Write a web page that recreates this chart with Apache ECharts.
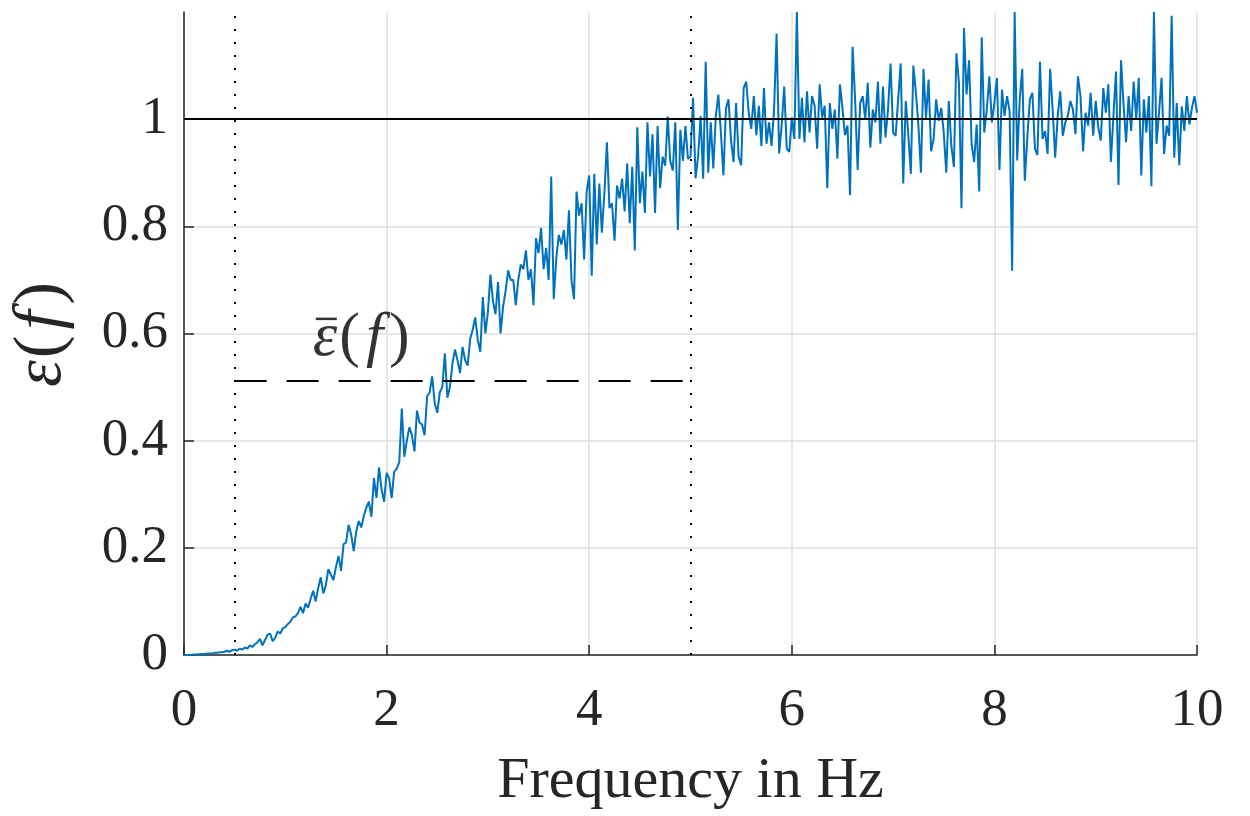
<!DOCTYPE html>
<html>
<head>
<meta charset="utf-8">
<script src="https://cdn.jsdelivr.net/npm/echarts@6/dist/echarts.min.js"></script>
<style>
  html, body { margin: 0; padding: 0; background: #fff; }
  #chart { width: 1250px; height: 816px; }
</style>
</head>
<body>
<div id="chart"></div>
<script>
// ---------- data ----------
const freqStart = 0;
const freqStep = 0.025;          // Hz between samples
const eps_0_1 = [0,0,0,0.0005,0.001,0.001,0.0015,0.002,0.002,0.0025,0.003,0.003,0.004,0.004,0.005,0.005,0.006,0.008,0.006,0.009,
  0.010,0.008,0.012,0.010,0.014,0.012,0.018,0.015,0.020,0.024,0.030,0.018,0.028,0.038,0.040,0.026,0.032,0.044,0.040,0.050];
const eps_1_2 = [0.052,0.058,0.062,0.070,0.072,0.078,0.090,0.078,0.096,0.088,0.105,0.120,0.100,0.125,0.145,0.115,0.130,0.160,0.150,0.140,
  0.164,0.185,0.157,0.207,0.210,0.243,0.225,0.194,0.230,0.250,0.238,0.260,0.275,0.286,0.258,0.330,0.293,0.350,0.310,0.286];
const eps_2_3 = [0.340,0.330,0.293,0.342,0.348,0.360,0.460,0.370,0.400,0.425,0.410,0.380,0.456,0.434,0.430,0.410,0.483,0.490,0.520,0.470,
  0.452,0.490,0.500,0.563,0.480,0.500,0.544,0.570,0.550,0.526,0.575,0.550,0.540,0.590,0.607,0.630,0.588,0.566,0.668,0.600];
const eps_3_4 = [0.640,0.710,0.660,0.636,0.696,0.600,0.650,0.680,0.718,0.700,0.700,0.653,0.700,0.729,0.720,0.755,0.700,0.720,0.653,0.778,
  0.750,0.797,0.720,0.760,0.700,0.893,0.664,0.740,0.784,0.766,0.793,0.738,0.830,0.700,0.664,0.865,0.820,0.843,0.738,0.865];
const eps_4_5 = [0.895,0.708,0.898,0.766,0.880,0.788,0.862,0.957,0.834,0.843,0.773,0.876,0.852,0.889,0.828,0.917,0.806,0.911,0.755,0.985,
  0.843,0.902,0.825,0.994,0.893,0.972,0.825,0.987,0.871,0.930,0.913,1.005,0.922,0.904,0.994,0.793,0.980,0.922,0.987,0.926];
const eps_5_6 = [0.930,1.040,0.890,0.930,1.006,0.889,1.107,0.900,0.994,0.908,1.006,1.046,0.975,0.895,1.020,1.037,0.960,0.920,1.030,0.930,
  0.914,1.058,1.070,1.012,0.982,1.043,0.970,1.025,0.950,1.058,0.954,0.994,0.950,1.018,1.160,0.936,0.988,1.061,0.945,0.939];
const eps_6_7 = [1.003,0.963,1.200,0.963,1.040,0.957,1.052,0.975,1.043,1.025,0.945,1.065,1.003,1.025,0.871,1.030,0.982,1.018,0.926,1.065,
  1.020,0.970,0.988,0.858,1.135,1.037,0.905,1.030,1.043,1.000,1.068,0.947,1.018,0.994,1.070,0.954,1.061,0.966,1.018,1.104];
const eps_7_8 = [0.975,0.969,1.037,1.104,0.880,1.034,0.972,0.898,1.100,1.050,0.988,0.900,1.094,1.002,1.074,0.940,0.963,1.037,0.997,1.021,
  0.975,0.900,1.034,0.950,0.911,1.123,1.068,0.834,1.170,1.046,1.110,0.954,0.920,0.990,0.865,1.153,0.975,1.018,1.080,0.994];
const eps_8_9 = [1.030,1.077,0.905,1.055,1.006,1.043,1.015,0.717,1.200,0.923,1.037,1.094,0.885,0.966,1.037,1.049,0.945,0.933,1.107,0.963,
  0.978,0.935,1.094,1.018,0.928,1.006,1.052,0.969,0.994,1.006,1.034,1.018,0.972,1.080,1.043,0.940,1.012,0.988,1.049,0.969];
const eps_9_10 = [1.034,0.985,0.960,1.058,1.012,1.065,0.920,1.006,1.089,0.877,1.110,1.027,0.957,1.043,0.978,1.070,1.000,1.077,0.895,1.037,
  0.975,1.043,0.875,1.200,0.954,1.012,1.077,0.935,0.988,0.969,1.193,0.928,1.030,0.914,1.024,0.978,1.043,0.990,1.021,1.043,1.012];

const bandLimits = [0.5, 5.0];   // dotted vertical lines (Hz)
const meanEps = 0.511;           // dashed mean level inside the band
const refLevel = 1;              // solid reference line
const annotAnchor = [1.76, 0.59]; // where the ε̄(f) text sits (data coords)
const xTicks = { min: 0, max: 10, step: 2 };
const yTicks = { min: 0, max: 1.2, step: 0.2 };

// ---------- build ----------
const epsilon = [].concat(eps_0_1, eps_1_2, eps_2_3, eps_3_4, eps_4_5, eps_5_6, eps_6_7, eps_7_8, eps_8_9, eps_9_10);
const seriesData = epsilon.map((v, i) => [+(freqStart + i * freqStep).toFixed(4), v]);

const FONT = 'Liberation Serif';
const INK = '#262626';
const chart = echarts.init(document.getElementById('chart'), null, { renderer: 'canvas' });

const annotRich = {
  i: { fontFamily: FONT, fontSize: 62, fontStyle: 'italic', color: '#000' },
  f: { fontFamily: FONT, fontSize: 62, fontStyle: 'italic', color: '#000', padding: [0, 4, 0, 4] },
  n: { fontFamily: FONT, fontSize: 62, color: '#000', padding: [0, 2, 0, 2] },
  bar: { width: 21, height: 2.5, backgroundColor: '#000' }
};

chart.setOption({
  animation: false,
  backgroundColor: '#ffffff',
  grid: { left: 182, right: 53, top: 12, bottom: 154, containLabel: false },
  xAxis: {
    type: 'value', min: xTicks.min, max: xTicks.max, interval: xTicks.step,
    axisLine: { show: true, onZero: false, lineStyle: { color: INK, width: 1.5 } },
    axisTick: { show: true, inside: true, length: 10, lineStyle: { color: INK, width: 1.5 } },
    axisLabel: { fontFamily: FONT, fontSize: 53, color: INK, margin: 30 },
    splitLine: { show: true, lineStyle: { color: '#dfdfdf', width: 1.5 } },
    name: 'Frequency in Hz', nameLocation: 'middle', nameGap: 98,
    nameTextStyle: { fontFamily: FONT, fontSize: 58, color: INK }
  },
  yAxis: {
    type: 'value', min: yTicks.min, max: yTicks.max, interval: yTicks.step,
    axisLine: { show: true, onZero: false, lineStyle: { color: INK, width: 1.5 } },
    axisTick: { show: true, inside: true, length: 10, lineStyle: { color: INK, width: 1.5 } },
    axisLabel: {
      fontFamily: FONT, fontSize: 53, color: INK, margin: 16, showMaxLabel: false,
      formatter: v => String(Math.round(v * 10) / 10)
    },
    splitLine: { show: true, showMaxLine: false, lineStyle: { color: '#dfdfdf', width: 1.5 } },
    name: '{i|ε}{n|(}{f|f}{n|)}', nameLocation: 'middle', nameGap: 108, nameRotate: 90,
    nameTextStyle: {
      rich: {
        i: { fontFamily: FONT, fontSize: 68, fontStyle: 'italic', color: INK },
        f: { fontFamily: FONT, fontSize: 68, fontStyle: 'italic', color: INK, padding: [0, 4, 0, 4] },
        n: { fontFamily: FONT, fontSize: 68, color: INK, padding: [0, 2, 0, 2] }
      }
    }
  },
  series: [
    {
      name: 'mean', type: 'line', data: [], z: 1,
      markLine: {
        silent: true, symbol: 'none', animation: false,
        label: { show: false },
        lineStyle: { color: '#000', width: 2, type: [32, 20] },
        data: [[{ coord: [bandLimits[0], meanEps] }, { coord: [bandLimits[1], meanEps] }]]
      }
    },
    {
      name: 'epsilon', type: 'line', data: seriesData, z: 2,
      showSymbol: false, symbol: 'none',
      lineStyle: { color: '#0072BD', width: 2 },
      clip: true
    },
    {
      name: 'refs', type: 'line', data: [], z: 3,
      markLine: {
        silent: true, symbol: 'none', animation: false,
        label: { show: false },
        data: [
          { yAxis: refLevel, lineStyle: { color: '#000', width: 2, type: 'solid' } },
          { xAxis: bandLimits[0], lineStyle: { color: '#000', width: 2, type: [2, 11] } },
          { xAxis: bandLimits[1], lineStyle: { color: '#000', width: 2, type: [2, 11] } }
        ]
      }
    },
    {
      name: 'annot', type: 'scatter', z: 4, silent: true,
      symbol: 'circle', symbolSize: 2, itemStyle: { color: 'rgba(0,0,0,0)' },
      data: [
        { value: annotAnchor, label: { formatter: '{i|ε}{n|(}{f|f}{n|)}' } },
        { value: annotAnchor, label: { formatter: '{bar|}', offset: [-36, -20] } }
      ],
      label: { show: true, position: 'inside', rich: annotRich }
    }
  ]
});
</script>
</body>
</html>
